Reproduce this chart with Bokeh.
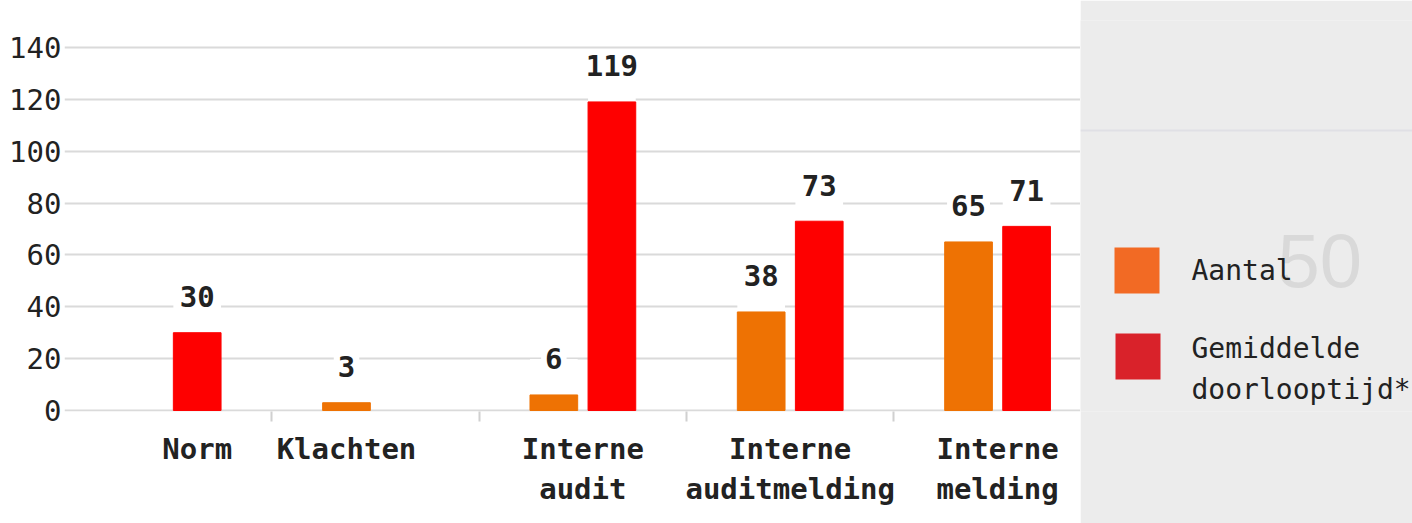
from bokeh.plotting import figure
from bokeh.models import ColumnDataSource, FixedTicker, LabelSet, Range1d, Span
from bokeh.layouts import row
from bokeh.embed import file_html
from bokeh.resources import INLINE
from bokeh.core.properties import value

# ---------------- data ----------------
categories = ["Norm", "Klachten", "Interne\naudit", "Interne\nauditmelding", "Interne\nmelding"]
aantal = [None, 3, 6, 38, 65]
doorlooptijd = [30, None, 119, 73, 71]
series_names = ["Aantal", "Gemiddelde\ndoorlooptijd*"]
y_ticks = [0, 20, 40, 60, 80, 100, 120, 140]

# ---------------- style ----------------
bar_colors = ["#ee7203", "#fe0000"]
legend_colors = ["#f26a24", "#d9222a"]
FONT = "DejaVu Sans Mono"
TXT = "#222222"
PANEL = "#ececec"

centers = [i + 0.5 for i in range(len(categories))]
dodge = [-0.14, 0.14]
bar_w = 0.23
LABEL_OFFSET_PX = 36
PX_PER_UNIT = 2.593

FRAME_TOP, FRAME_BOTTOM = 20, 411

p = figure(width=1080, height=523,
           x_range=Range1d(0, 4.9), y_range=Range1d(-0.386, 150.4),
           output_backend="svg", toolbar_location=None,
           min_border_left=64, min_border_right=0,
           min_border_top=FRAME_TOP, min_border_bottom=523 - FRAME_BOTTOM,
           background_fill_color="white", border_fill_color="white")
p.outline_line_color = None

series = [aantal, doorlooptijd]
for s, (vals, col) in enumerate(zip(series, bar_colors)):
    xs = [c + dodge[s] for c, v in zip(centers, vals) if v is not None]
    tops = [v for v in vals if v is not None]
    src = ColumnDataSource(dict(x=xs, top=tops, label=[str(v) for v in tops],
                                gap=[t + LABEL_OFFSET_PX / PX_PER_UNIT for t in tops]))
    # white gap between bar top and its value label (hides grid lines, as in the original)
    p.vbar(x="x", top="gap", bottom="top", width=bar_w, fill_color="white", line_color=None, source=src)
    p.vbar(x="x", top="top", bottom=0, width=bar_w, fill_color=col, line_color=col, source=src)
    p.add_layout(LabelSet(x="x", y="top", text="label", source=src, y_offset=LABEL_OFFSET_PX,
                          text_align="center", text_baseline="middle",
                          text_font=value(FONT), text_font_style="bold",
                          text_font_size="29px", text_color=TXT,
                          background_fill_color="white",
                          border_line_color="white", border_line_width=8))

# category label position: group centre, or the single bar when only one series has a value
label_x = []
for i, c in enumerate(centers):
    present = [s for s in range(len(series)) if series[s][i] is not None]
    label_x.append(c if len(present) == len(series) else c + dodge[present[0]])

# x axis
p.xaxis.ticker = FixedTicker(ticks=label_x, minor_ticks=[1, 2, 3, 4])
p.xaxis.major_label_overrides = {x: lab for x, lab in zip(label_x, categories)}
p.xaxis.axis_line_color = None
p.xaxis.major_tick_line_color = None
p.xaxis.minor_tick_line_color = "#d0d0d0"
p.xaxis.minor_tick_line_width = 2
p.xaxis.minor_tick_in = 0
p.xaxis.minor_tick_out = 10
p.xaxis.major_label_standoff = 10
p.xaxis.major_label_text_font = FONT
p.xaxis.major_label_text_font_style = "bold"
p.xaxis.major_label_text_font_size = "29px"
p.xaxis.major_label_text_color = TXT
p.xgrid.visible = False

# y axis
p.yaxis.ticker = FixedTicker(ticks=y_ticks)
p.yaxis.axis_line_color = None
p.yaxis.major_tick_line_color = None
p.yaxis.minor_tick_line_color = None
p.yaxis.major_label_standoff = -3
p.yaxis.major_label_text_font = FONT
p.yaxis.major_label_text_font_size = "29px"
p.yaxis.major_label_text_color = TXT
p.ygrid.ticker = FixedTicker(ticks=y_ticks)
p.ygrid.grid_line_color = "#dadada"
p.ygrid.grid_line_width = 2

# ---------------- right panel with legend ----------------
# frame of this panel is aligned with the chart's frame, so map y to page pixels
q = figure(width=332, height=523, x_range=Range1d(0, 332), y_range=Range1d(FRAME_BOTTOM, FRAME_TOP),
           output_backend="svg", toolbar_location=None, min_border=0,
           background_fill_color=PANEL, border_fill_color=PANEL)
q.outline_line_color = None
q.axis.visible = False
q.grid.visible = False

q.add_layout(Span(location=130, dimension="width", line_color="#e0e0e5", line_width=2))
q.text(x=[197], y=[260], text=["50"], text_font=value("Liberation Sans"), text_font_size="76px",
       text_color="#d9d9d9", text_baseline="middle", text_align="left")

sq_y = [270, 356]
leg_src = ColumnDataSource(dict(x=[56.5, 57.5], y=sq_y, c=legend_colors))
q.rect(x="x", y="y", width=45, height=46, fill_color="c", line_color=None, source=leg_src)

line_gap = 41
tx, ty, tt = [], [], []
first_line_y = [270, 348]
for name, y0 in zip(series_names, first_line_y):
    for k, part in enumerate(name.split("\n")):
        tx.append(111)
        ty.append(y0 + k * line_gap)
        tt.append(part)
q.text(x=tx, y=ty, text=tt, text_font=value(FONT), text_font_size="28px",
       text_color=TXT, text_baseline="middle", text_align="left")

layout = row(p, q)
open("out.html", "w").write(file_html(layout, INLINE))
